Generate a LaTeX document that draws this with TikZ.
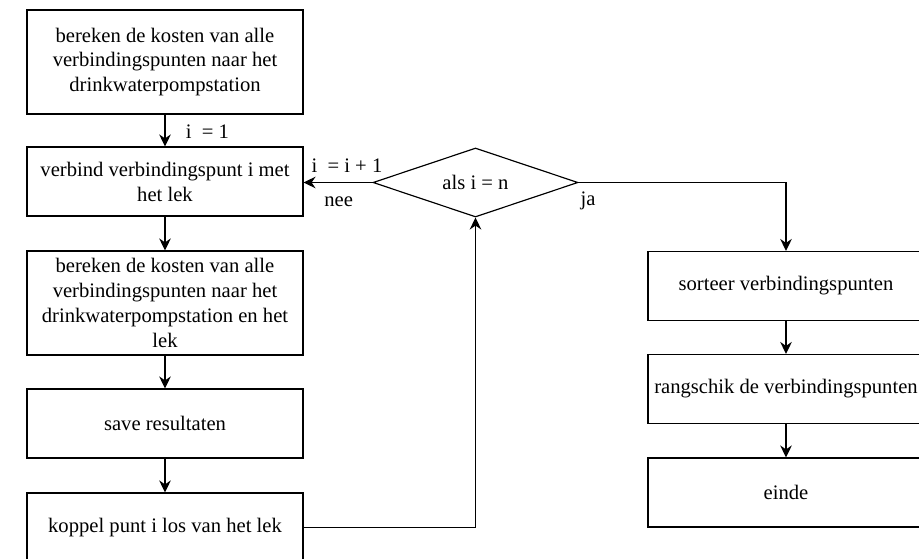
\documentclass[tikz,border=0pt]{standalone}
\usepackage{fontspec}
\setmainfont{Liberation Serif}
\usetikzlibrary{arrows.meta,shapes.geometric}
\tikzset{
  stepbox/.style={rectangle,draw=black,line width=1pt,minimum width=8.28cm,
    minimum height=2.07cm,inner sep=0pt,align=center,fill=white,
    font=\fontsize{17.6}{21.3}\selectfont},
  tallbox/.style={stepbox,minimum height=3.12cm},
  checkbox/.style={diamond,draw=black,line width=1pt,minimum width=6.15cm,
    minimum height=2.07cm,aspect=2.97,inner sep=0pt,fill=white,
    font=\fontsize{17.6}{21.3}\selectfont},
  flow/.style={-{Stealth[length=3.6mm,width=3.5mm,inset=1.2mm]},line width=1.5pt},
  link/.style={line width=1.1pt},
  flowlabel/.style={font=\fontsize{17.6}{21.3}\selectfont,inner sep=0pt}
}
\begin{document}
\begin{tikzpicture}[x=0.03cm,y=-0.03cm]
  \useasboundingbox[fill=white] (0,0) rectangle (919,559);

  \node[tallbox] (kosten)    at (165,62)    {bereken de kosten van alle\\verbindingspunten naar het\\drinkwaterpompstation};
  \node[stepbox] (verbind)   at (165,181.5) {verbind verbindingspunt i met\\het lek};
  \node[tallbox] (kostenlek) at (165,303)   {bereken de kosten van alle\\verbindingspunten naar het\\drinkwaterpompstation en het\\lek};
  \node[stepbox] (save)      at (165,423.5) {save resultaten};
  \node[stepbox] (koppel)    at (165,527.5) {koppel punt i los van het lek};
  \node[checkbox] (check)    at (475.5,182.5) {als i = n};
  \node[stepbox] (sorteer)   at (786,286)   {sorteer verbindingspunten};
  \node[stepbox] (rangschik) at (786,389)   {rangschik de verbindingspunten};
  \node[stepbox] (einde)     at (786,492.5) {einde};

  \draw[flow] (kosten) -- node[flowlabel,anchor=west,xshift=17pt,yshift=-1pt] {i~ = 1} (verbind);
  \draw[flow] (verbind) -- (kostenlek);
  \draw[flow] (kostenlek) -- (save);
  \draw[flow] (save) -- (koppel);
  \draw[link,-{Stealth[length=3.6mm,width=3.5mm,inset=1.2mm]}] (koppel.east) -- (koppel.east -| check.south) -- (check.south);
  \draw[flow] (check.west) -- (check.west -| verbind.east)
    node[flowlabel,anchor=west,xshift=6pt,yshift=14.5pt] {i~ = i + 1}
    node[flowlabel,anchor=west,xshift=17pt,yshift=-16pt] {nee};
  \draw[flow] (check.east) node[flowlabel,anchor=west,xshift=1pt,yshift=-16pt] {ja} -| (sorteer.north);
  \draw[flow] (sorteer) -- (rangschik);
  \draw[flow] (rangschik) -- (einde);
\end{tikzpicture}
\end{document}
